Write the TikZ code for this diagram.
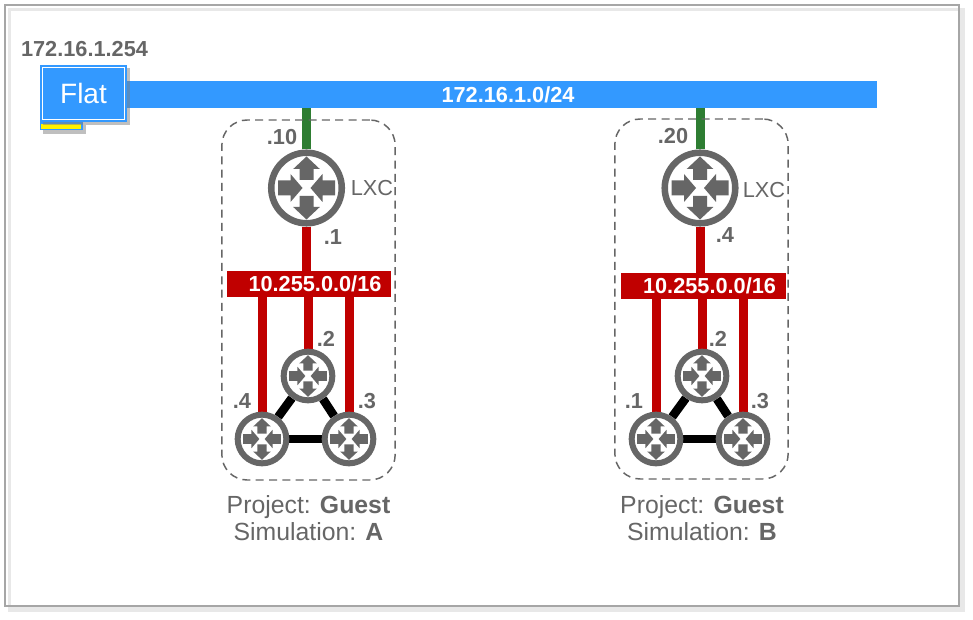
\documentclass[tikz,border=0pt]{standalone}
\usepackage{fontspec}
\setmainfont{Liberation Sans}
\usetikzlibrary{shadows, backgrounds}
\definecolor{ink}{HTML}{666666}
\definecolor{netblue}{HTML}{3399FF}
\definecolor{netred}{HTML}{C00000}
\definecolor{netgreen}{HTML}{2E7D32}
\definecolor{framegray}{HTML}{A6A6A6}
\newcommand{\routerarrows}[1]{%
    \begin{scope}[shift={(path picture bounding box.center)}, x=#1pt, y=-#1pt]
        \fill [ink, draw=none] (0,-31.5) -- (13.3,-19) -- (7,-19) -- (7,-8) -- (-7,-8) -- (-7,-19) -- (-13.3,-19) -- cycle;
        \fill [ink, draw=none] (0,31.5) -- (13.3,19) -- (7,19) -- (7,8) -- (-7,8) -- (-7,19) -- (-13.3,19) -- cycle;
        \fill [ink, draw=none] (-4,0) -- (-16,-14) -- (-16,-7.5) -- (-28.5,-7.5) -- (-28.5,7.5) -- (-16,7.5) -- (-16,14) -- cycle;
        \fill [ink, draw=none] (4,0) -- (16,-14) -- (16,-7.5) -- (28.5,-7.5) -- (28.5,7.5) -- (16,7.5) -- (16,14) -- cycle;
    \end{scope}}
\tikzset{
    bigrouter/.style={circle, draw=ink, fill=white, line width=4.9pt, inner sep=0pt,
        minimum size=52.9pt, path picture={\routerarrows{0.75}}},
    smallrouter/.style={circle, draw=ink, fill=white, line width=4.5pt, inner sep=0pt,
        minimum size=36.5pt, path picture={\routerarrows{0.495}}},
    subnet/.style={fill=netred, minimum width=123.5pt, minimum height=20pt, inner sep=0pt},
    netlabel/.style={text=white, font=\fontsize{16.3}{18}\selectfont\bfseries, inner sep=0pt},
    addr/.style={text=ink, font=\fontsize{16.3}{18}\selectfont\bfseries, inner sep=0pt},
    plain/.style={text=ink, font=\fontsize{16.3}{20}\selectfont, inner sep=0pt},
    caption/.style={text=ink, font=\fontsize{18.6}{20.2}\selectfont, inner sep=0pt, align=center},
    simbox/.style={draw=ink, line width=1.1pt, dash pattern=on 6pt off 4pt, rounded corners=19pt,
        minimum width=130pt, minimum height=270pt, inner sep=0pt},
    redlink/.style={netred, line width=6.75pt},
    greenlink/.style={netgreen, line width=6.75pt},
    blacklink/.style={black, line width=6.5pt}
}
\begin{document}
\begin{tikzpicture}[x=0.75pt, y=-0.75pt]
    \useasboundingbox (0,0) rectangle (973,620);

    % blue network
    \node (lan) at (501,94.5) [fill=netblue, minimum width=564pt, minimum height=20.25pt, inner sep=0pt] {};
    \node (lanlabel) at (508,94.5) [netlabel] {172.16.1.0/24};
    \node (tab) at (61.5,126) [fill=netblue, minimum width=32.25pt, minimum height=6.5pt, inner sep=0pt,
        drop shadow={shadow xshift=2.5pt, shadow yshift=-2.5pt, opacity=0.5}] {};
    \node (tabbar) at (61,126.5) [fill=yellow, minimum width=30pt, minimum height=3.6pt, inner sep=0pt] {};
    \node (flat) at (83.5,93.5) [fill=netblue, text=white, minimum width=65.25pt, minimum height=42.75pt, inner sep=0pt,
        font=\fontsize{21}{24}\selectfont,
        drop shadow={shadow xshift=2.5pt, shadow yshift=-2.5pt, opacity=0.5}] {Flat};
    \draw [white, line width=1.1pt] (42.5,67.5) rectangle (124.5,119.5);
    \node (flatip) at (84.5,49) [addr] {172.16.1.254};

    % simulation A
    \node (boxA) at (308.5,300) [simbox] {};
    \node (lxcA) at (306.5,188) [bigrouter] {};
    \node (netA) at (309,284) [subnet] {};
    \node (netlabelA) at (315,284) [netlabel] {10.255.0.0/16};
    \node (twoA) at (308,376) [smallrouter] {};
    \node (fourA) at (262,439) [smallrouter] {};
    \node (threeA) at (349,439) [smallrouter] {};
    \node (tenA) at (282,137) [addr] {.10};
    \node (lxcnameA) at (372,188) [plain] {LXC};
    \node (oneA) at (333,237) [addr] {.1};
    \node (ipTwoA) at (326,339) [addr] {.2};
    \node (ipFourA) at (242,401) [addr] {.4};
    \node (ipThreeA) at (367,401) [addr] {.3};
    \node (labelA) at (308.5,518) [caption] {Project: \textbf{Guest}\\Simulation: \textbf{A}};

    % simulation B
    \node (boxB) at (701.5,299) [simbox] {};
    \node (lxcB) at (700,188) [bigrouter] {};
    \node (netB) at (703.5,286) [subnet] {};
    \node (netlabelB) at (709.5,286) [netlabel] {10.255.0.0/16};
    \node (twoB) at (702,376) [smallrouter] {};
    \node (fourB) at (656,439) [smallrouter] {};
    \node (threeB) at (743,439) [smallrouter] {};
    \node (twentyB) at (673,136) [addr] {.20};
    \node (lxcnameB) at (764,190) [plain] {LXC};
    \node (oneB) at (725,235) [addr] {.4};
    \node (ipTwoB) at (718,339) [addr] {.2};
    \node (ipFourB) at (634,401) [addr] {.1};
    \node (ipThreeB) at (760,401) [addr] {.3};
    \node (labelB) at (702,518) [caption] {Project: \textbf{Guest}\\Simulation: \textbf{B}};

    \begin{pgfonlayer}{background}
        % frame
        \fill [black!9] (8,8) rectangle (965,612);
        \fill [white] (11,11) rectangle (958,605);
        \draw [framegray, line width=1.5pt] (5,5) rectangle (959,606);
        % links
        \draw [greenlink] (lxcA) -- (lxcA |- lan.south);
        \draw [redlink] (lxcA) -- (lxcA |- netA);
        \draw [redlink] (twoA) -- (twoA |- netA);
        \draw [redlink] (fourA) -- (fourA |- netA);
        \draw [redlink] (threeA) -- (threeA |- netA);
        \draw [blacklink] (twoA) -- (fourA);
        \draw [blacklink] (twoA) -- (threeA);
        \draw [blacklink] (fourA) -- (threeA);
        \draw [greenlink] (lxcB) -- (lxcB |- lan.south);
        \draw [redlink] (lxcB) -- (lxcB |- netB);
        \draw [redlink] (twoB) -- (twoB |- netB);
        \draw [redlink] (fourB) -- (fourB |- netB);
        \draw [redlink] (threeB) -- (threeB |- netB);
        \draw [blacklink] (twoB) -- (fourB);
        \draw [blacklink] (twoB) -- (threeB);
        \draw [blacklink] (fourB) -- (threeB);
    \end{pgfonlayer}
\end{tikzpicture}
\end{document}
